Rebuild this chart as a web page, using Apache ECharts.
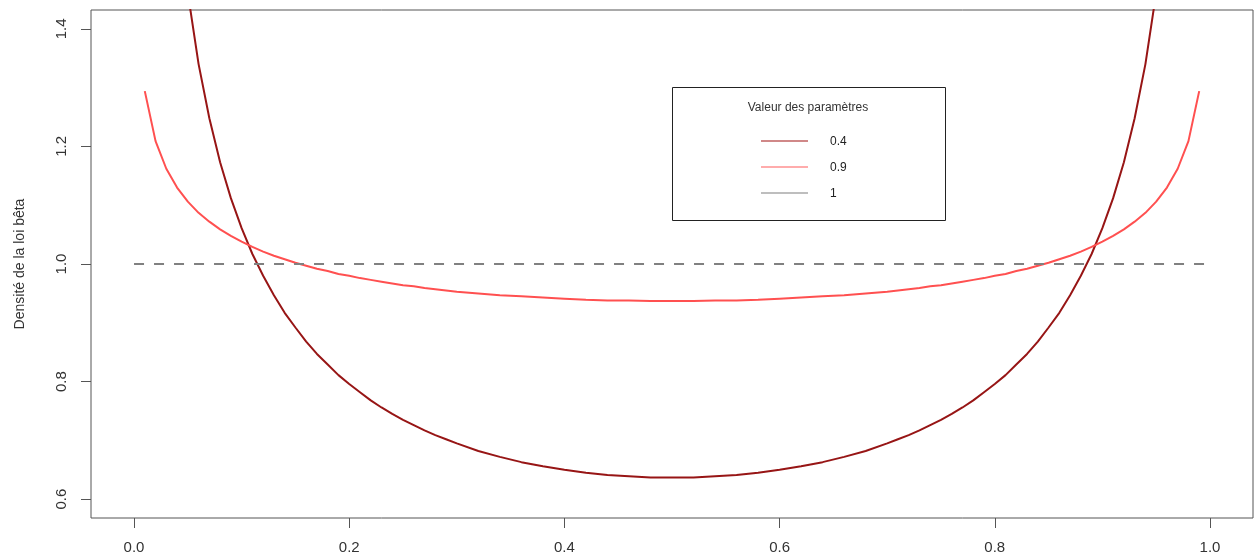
<!DOCTYPE html>
<html>
<head>
<meta charset="utf-8">
<script src="https://cdn.jsdelivr.net/npm/echarts@6/dist/echarts.min.js"></script>
<style>html,body{margin:0;padding:0;background:#fff}#c{width:1256px;height:558px}</style>
</head>
<body>
<div id="c"></div>
<script>
const xs = [0.01,0.02,0.03,0.04,0.05,0.06,0.07,0.08,0.09,0.10,
  0.11,0.12,0.13,0.14,0.15,0.16,0.17,0.18,0.19,0.20,
  0.21,0.22,0.23,0.24,0.25,0.26,0.27,0.28,0.29,0.30,
  0.32,0.34,0.36,0.38,0.40,0.42,0.44,0.46,0.48,0.50,0.52,0.54,0.56,0.58,0.60,0.62,0.64,0.66,0.68,
  0.70,0.71,0.72,0.73,0.74,0.75,0.76,0.77,0.78,0.79,
  0.80,0.81,0.82,0.83,0.84,0.85,0.86,0.87,0.88,0.89,
  0.90,0.91,0.92,0.93,0.94,0.95,0.96,0.97,0.98,0.99];
const densA = [3.199,2.274,1.866,1.624,1.461,1.340,1.248,1.173,1.112,1.061,
  1.017,0.980,0.947,0.917,0.892,0.868,0.847,0.829,0.811,0.796,
  0.782,0.768,0.756,0.745,0.735,0.726,0.717,0.709,0.702,0.695,
  0.682,0.672,0.663,0.656,0.650,0.645,0.641,0.639,0.637,0.637,0.637,0.639,0.641,0.645,0.650,0.656,0.663,0.672,0.682,
  0.695,0.702,0.709,0.717,0.726,0.735,0.745,0.756,0.768,0.782,
  0.796,0.811,0.829,0.847,0.868,0.892,0.917,0.947,0.980,1.017,
  1.061,1.112,1.173,1.248,1.340,1.461,1.624,1.866,2.274,3.199];
const densB = [1.294,1.209,1.162,1.130,1.106,1.087,1.072,1.059,1.048,1.038,
  1.029,1.021,1.014,1.008,1.002,0.997,0.992,0.988,0.983,0.980,
  0.976,0.973,0.970,0.967,0.964,0.962,0.959,0.957,0.955,0.953,
  0.950,0.947,0.945,0.943,0.941,0.939,0.938,0.938,0.937,0.937,0.937,0.938,0.938,0.939,0.941,0.943,0.945,0.947,0.950,
  0.953,0.955,0.957,0.959,0.962,0.964,0.967,0.970,0.973,0.976,
  0.980,0.983,0.988,0.992,0.997,1.002,1.008,1.014,1.021,1.029,
  1.038,1.048,1.059,1.072,1.087,1.106,1.130,1.162,1.209,1.294];
const flatX = [0, 1];
const flatY = [1, 1];
const legendLabels = ['0.4', '0.9', '1'];
const legendTitle = 'Valeur des paramètres';
const xTicks = [0, 0.2, 0.4, 0.6, 0.8, 1.0];
const yTicks = [0.6, 0.8, 1.0, 1.2, 1.4];
const yName = 'Densité de la loi bêta';

const colA = '#971515', colB = '#FF5050', colC = '#808080';
const font = 'Liberation Sans, Arial, sans-serif';

const chart = echarts.init(document.getElementById('c'), null, {renderer: 'canvas'});
const legendColors = ['#C06060', '#FF9090', '#A8A8A8'];
const legendGraphics = [
  {type: 'rect', shape: {x: 672.5, y: 87.5, width: 273, height: 133}, style: {fill: '#fff', stroke: '#222', lineWidth: 1}},
  {type: 'text', x: 808, y: 108, style: {text: legendTitle, font: '12px ' + font, fill: '#333', align: 'center', verticalAlign: 'middle'}}
];
legendLabels.forEach((t, i) => {
  const y = 141 + i * 26;
  legendGraphics.push({type: 'line', shape: {x1: 761, y1: y, x2: 808, y2: y}, style: {stroke: legendColors[i], lineWidth: 1.5}});
  legendGraphics.push({type: 'text', x: 830, y: y + 1, style: {text: t, font: '12px ' + font, fill: '#222', verticalAlign: 'middle'}});
});

chart.setOption({
  animation: false,
  grid: {left: 91, right: 3, top: 10, bottom: 40, show: true, borderColor: '#555', borderWidth: 1,
    backgroundColor: 'transparent', containLabel: false, outerBoundsMode: 'none'},
  xAxis: {
    type: 'value', min: -0.04, max: 1.04,
    axisLine: {show: false, onZero: false},
    splitLine: {show: false},
    axisTick: {show: true, length: 10, lineStyle: {color: '#555'}, customValues: xTicks},
    axisLabel: {customValues: xTicks, formatter: v => v.toFixed(1), fontSize: 15, color: '#333', fontFamily: font, margin: 22}
  },
  yAxis: {
    type: 'value', min: 0.568, max: 1.432,
    name: yName, nameLocation: 'middle', nameRotate: 90, nameGap: 64,
    nameTextStyle: {fontSize: 14, color: '#333', fontFamily: font},
    axisLine: {show: false, onZero: false},
    splitLine: {show: false},
    axisTick: {show: true, length: 10, lineStyle: {color: '#555'}, customValues: yTicks},
    axisLabel: {customValues: yTicks, formatter: v => v.toFixed(1), fontSize: 15, color: '#333', fontFamily: font, rotate: 90, margin: 22}
  },
  series: [
    {type: 'line', name: legendLabels[0], data: xs.map((x, i) => [x, densA[i]]), showSymbol: false, clip: true,
      lineStyle: {color: colA, width: 2}},
    {type: 'line', name: legendLabels[1], data: xs.map((x, i) => [x, densB[i]]), showSymbol: false, clip: true,
      lineStyle: {color: colB, width: 2}},
    {type: 'line', name: legendLabels[2], data: flatX.map((x, i) => [x, flatY[i]]), showSymbol: false, clip: true,
      lineStyle: {color: colC, width: 2, type: [10, 10]}}
  ],
  graphic: legendGraphics
});
</script>
</body>
</html>
